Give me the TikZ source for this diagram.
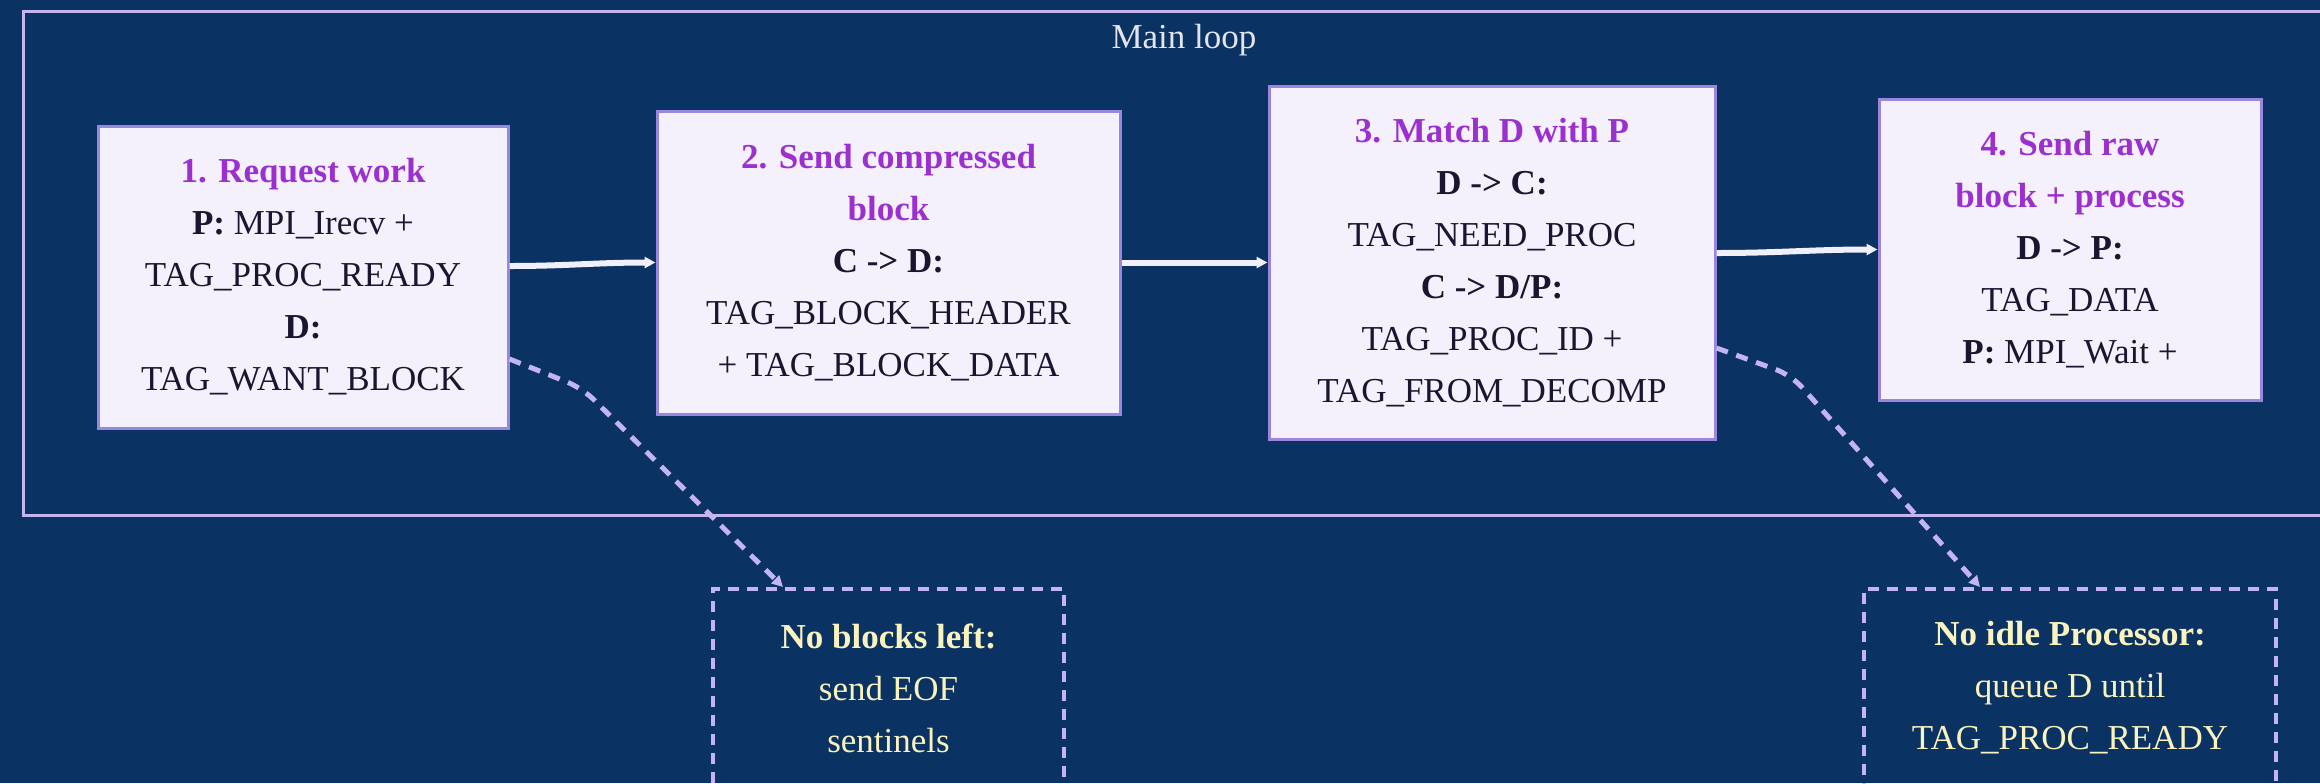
\documentclass[tikz,border=0pt]{standalone}
\usepackage{fontspec}
\setmainfont{Liberation Serif}
\usetikzlibrary{arrows.meta}
\definecolor{loopbg}{HTML}{0A3262}
\definecolor{loopline}{HTML}{C5B4F2}
\definecolor{looptext}{HTML}{E4E4EE}
\definecolor{boxfill}{HTML}{F4F1FD}
\definecolor{boxline}{HTML}{9A86DE}
\definecolor{boxtext}{HTML}{1C1530}
\definecolor{phasetext}{HTML}{9B30CF}
\definecolor{flowline}{HTML}{F1EFFB}
\definecolor{noteline}{HTML}{C4B4F4}
\definecolor{notetext}{HTML}{FAF3BE}
\newcommand{\phase}[1]{\textcolor{phasetext}{\textbf{#1}}}

\begin{document}
\begin{tikzpicture}[x=0.5pt,y=-0.5pt,
  every node/.style={font=\fontsize{17.5}{26}\selectfont,align=center,inner sep=0pt},
  stepbox/.style={draw=boxline,line width=1.5pt,fill=boxfill,text=boxtext},
  notebox/.style={draw=noteline,line width=2pt,dash pattern=on 5.5pt off 4pt,text=notetext,minimum height=99pt},
  flow/.style={draw=flowline,line width=3pt,-{Triangle[length=5.5pt,width=5.5pt]}},
  hint/.style={draw=noteline,line width=2.5pt,dash pattern=on 6pt off 4.5pt,rounded corners=8pt,-{Triangle[length=5.5pt,width=5.5pt]}}]
  \fill[loopbg] (0,0) rectangle (2320,783);
  \useasboundingbox (0,0) rectangle (2320,783);
  \clip (0,0) rectangle (2320,783);
  \draw[loopline,line width=1.5pt] (23,11) rectangle (2345,515);
  \node[text=looptext] (title) at (1184,40) {Main loop};
  \path (303,277) node[stepbox,minimum width=205pt,minimum height=151pt] (b1)
    {\phase{1. Request work}\\ \textbf{P:} MPI\_Irecv +\\ TAG\_PROC\_READY\\ \textbf{D:}\\ TAG\_WANT\_BLOCK}
  (888.5,262.5) node[stepbox,minimum width=231.5pt,minimum height=151.5pt] (b2)
    {\phase{2. Send compressed}\\ \phase{block}\\ \textbf{C -> D:}\\ TAG\_BLOCK\_HEADER\\ + TAG\_BLOCK\_DATA}
  (1492,262.5) node[stepbox,minimum width=223pt,minimum height=176.5pt] (b3)
    {\phase{3. Match D with P}\\ \textbf{D -> C:}\\ TAG\_NEED\_PROC\\ \textbf{C -> D/P:}\\ TAG\_PROC\_ID +\\ TAG\_FROM\_DECOMP}
  (2070,249.5) node[stepbox,minimum width=191pt,minimum height=150.5pt] (b4)
    {\phase{4. Send raw}\\ \phase{block + process}\\ \textbf{D -> P:}\\ TAG\_DATA\\ \textbf{P:} MPI\_Wait +};
  \path (888.5,688) node[notebox,minimum width=175.5pt] (n1)
    {\textbf{No blocks left:}\\ send EOF\\ sentinels}
  (2070,688) node[notebox,minimum width=206pt] (n2)
    {\textbf{No idle Processor:}\\ queue D until\\ TAG\_PROC\_READY};
  \draw[flow] ([yshift=5.5pt]b1.east) to[out=0,in=180] (b2.west);
  \draw[flow] (b2.east) -- (b3.west);
  \draw[flow] ([yshift=4.75pt]b3.east) to[out=0,in=180] (b4.west);
  \coordinate (k1) at (582,388);
  \coordinate (k2) at (1791,375);
  \draw[hint] ([yshift=-41pt]b1.east) -- (k1) -- ([xshift=-52.75pt]n1.north);
  \draw[hint] ([yshift=-42.75pt]b3.east) -- (k2) -- ([xshift=-45pt]n2.north);
\end{tikzpicture}
\end{document}
